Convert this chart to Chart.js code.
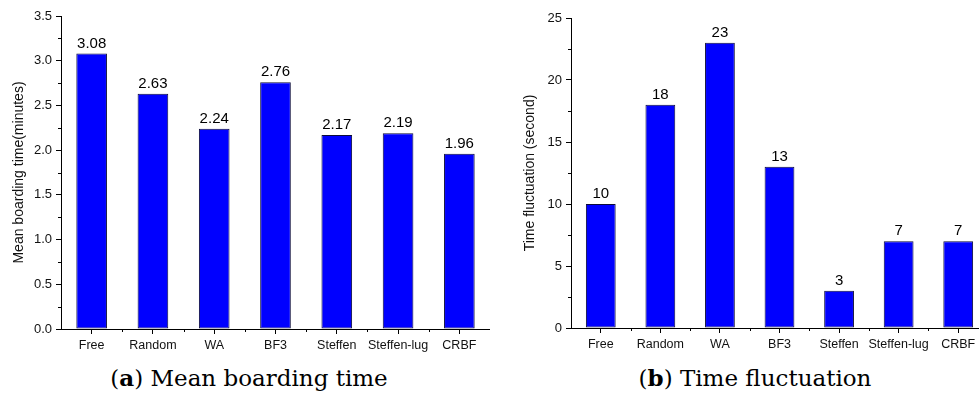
<!DOCTYPE html>
<html>
<head>
<meta charset="utf-8">
<script src="https://cdn.jsdelivr.net/npm/chart.js"></script>
<style>
  html, body { margin: 0; padding: 0; background: #fff; }
  body { width: 979px; height: 396px; overflow: hidden; position: relative; }
  .panel { position: absolute; top: 0; }
  .caption {
    position: absolute; top: 364px; width: 420px; text-align: center;
    font-family: "DejaVu Serif", "Liberation Serif", serif; font-size: 23px;
    line-height: 28px; color: #000;
  }
</style>
</head>
<body>
<div class="panel" style="left:0"><canvas id="boardChart" width="490" height="360"></canvas></div>
<div class="panel" style="left:490px"><canvas id="fluctChart" width="510" height="360"></canvas></div>
<div class="caption" style="left:39px">(<b>a</b>) Mean boarding time</div>
<div class="caption" style="left:545px">(<b>b</b>) Time fluctuation</div>

<script>
const STRATEGIES   = ['Free', 'Random', 'WA', 'BF3', 'Steffen', 'Steffen-lug', 'CRBF'];
const MEAN_TIME    = [3.08, 2.63, 2.24, 2.76, 2.17, 2.19, 1.96];
const FLUCTUATION  = [10, 18, 23, 13, 3, 7, 7];

const SANS = '"Liberation Sans", Arial, sans-serif';

// Value labels above each bar
const barLabels = {
  id: 'barLabels',
  afterDatasetsDraw(chart, args, opts) {
    const ctx = chart.ctx;
    const meta = chart.getDatasetMeta(0);
    const vals = chart.data.datasets[0].data;
    ctx.save();
    ctx.font = '15px ' + SANS;
    ctx.fillStyle = '#000';
    ctx.textAlign = 'center';
    ctx.textBaseline = 'alphabetic';
    meta.data.forEach((bar, i) => {
      ctx.fillText(opts.format(vals[i]), bar.x, bar.y - 6);
    });
    ctx.restore();
  }
};

// Short minor ticks: halfway between y steps, and at category boundaries on x
const minorTicks = {
  id: 'minorTicks',
  afterDraw(chart, args, opts) {
    const ctx = chart.ctx;
    const x = chart.scales.x, y = chart.scales.y;
    ctx.save();
    ctx.strokeStyle = '#000';
    ctx.lineWidth = 1;
    ctx.beginPath();
    for (let v = opts.step / 2; v < y.max; v += opts.step) {
      const py = Math.round(y.getPixelForValue(v)) + 0.5;
      ctx.moveTo(x.left - 3, py);
      ctx.lineTo(x.left, py);
    }
    for (let i = 1; i <= STRATEGIES.length; i++) {
      const px = Math.round(x.getPixelForValue(i - 0.5)) + 0.5;
      ctx.moveTo(px, y.bottom);
      ctx.lineTo(px, y.bottom + 3);
    }
    ctx.stroke();
    ctx.restore();
  }
};

function makeChart(id, values, cfg) {
  const ctx = document.getElementById(id).getContext('2d');
  return new Chart(ctx, {
    type: 'bar',
    plugins: [barLabels, minorTicks],
    data: {
      labels: STRATEGIES,
      datasets: [{
        data: values,
        backgroundColor: '#0000ff',
        borderColor: '#0c0c3a',
        borderWidth: 1,
        borderSkipped: false,
        categoryPercentage: 1,
        barPercentage: 0.5,
      }],
    },
    options: {
      responsive: false,
      animation: false,
      layout: { padding: cfg.padding },
      plugins: {
        legend: { display: false },
        tooltip: { enabled: false },
        barLabels: { format: cfg.format },
        minorTicks: { step: cfg.step },
      },
      scales: {
        x: {
          offset: true,
          grid: { offset: false, drawOnChartArea: false, tickLength: 5, tickColor: '#000' },
          border: { display: true, color: '#000', width: 1 },
          ticks: {
            color: '#111', padding: 4, autoSkip: false, maxRotation: 0, minRotation: 0,
            font: { family: SANS, size: 12.5 },
          },
          afterFit: s => { s.height = cfg.xHeight; },
        },
        y: {
          min: 0,
          max: cfg.max,
          grid: { drawOnChartArea: false, tickLength: 5, tickColor: '#000' },
          border: { display: true, color: '#000', width: 1 },
          ticks: {
            stepSize: cfg.step, color: '#111', padding: 4,
            font: { family: SANS, size: 13 },
            callback: cfg.tick,
          },
          title: {
            display: true, text: cfg.title, color: '#111',
            font: { family: SANS, size: 14 },
            padding: { top: cfg.titleOffset, bottom: 0 },
          },
          afterFit: s => { s.width = cfg.yWidth; },
        },
      },
    },
  });
}

makeChart('boardChart', MEAN_TIME, {
  max: 3.5, step: 0.5,
  tick: v => v.toFixed(1),
  format: v => v.toFixed(2),
  title: 'Mean boarding time(minutes)',
  titleOffset: 11,
  yWidth: 61,
  xHeight: 31,
  padding: { top: 16, right: 0, left: 0, bottom: 0 },
});

makeChart('fluctChart', FLUCTUATION, {
  max: 25, step: 5,
  tick: v => String(v),
  format: v => String(v),
  title: 'Time fluctuation (second)',
  titleOffset: 32,
  yWidth: 81,
  xHeight: 32,
  padding: { top: 18, right: 12, left: 0, bottom: 0 },
});
</script>
</body>
</html>
